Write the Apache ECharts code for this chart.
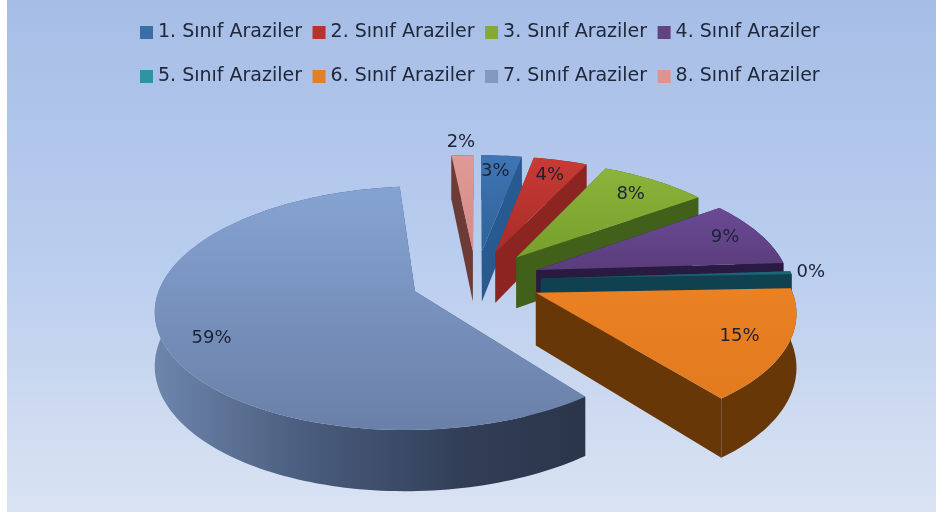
<!DOCTYPE html>
<html><head><meta charset="utf-8">
<style>html,body{margin:0;padding:0;background:#fff}#c{width:940px;height:512px}</style>
<script src="https://cdn.jsdelivr.net/npm/echarts@6/dist/echarts.min.js"></script>
</head><body><div id="c"></div>
<script>
const categories = ['1. Sınıf Araziler','2. Sınıf Araziler','3. Sınıf Araziler','4. Sınıf Araziler','5. Sınıf Araziler','6. Sınıf Araziler','7. Sınıf Araziler','8. Sınıf Araziler'];
const shares = [3, 4, 8, 9, 0.4, 15, 59, 1.6];

const legendColors = ['#3a6ea8','#b5322e','#86a836','#63427f','#2f93a3','#e0812a','#8099bd','#dc9491'];
const topFrom  = ['#3f75b5','#c93a35','#8cb33a','#6a4a94','#1f6a7c','#ea8224','#85a3d2','#e09a96'];
const topTo    = ['#2f6298','#a82c28','#76a02c','#5a3d7c','#175563','#e27a1e','#6a80a8','#d58a86'];
const wallColors = ['#285a92','#8c2521','#41601a','#281a40','#0f4150','#673708','#46597a','#6c3b36'];
const labelFraction = [0.82, 0.82, 0.81, 0.85, 1.08, 0.82, 0.83, 1.16];
const labelAngleShift = [-1, 0, 0, -1, 0, 0, -5, 0];

const cx = 476, cy = 280, R = 253, explode = 65, tilt = 0.46, persp = 0.00054, depth = 52;
const total = shares.reduce((a, b) => a + b, 0);
const starts = shares.map((_, i) => shares.slice(0, i).reduce((a, b) => a + b, 0));

function project(u, v, h) {
  const s = 1 / (1 + v * persp);
  return [cx + u * s, cy - v * tilt * s + h * s];
}
function renderSlice(i) {
  return function (params, api) {
    const val = api.value(0);
    const a0 = starts[i] / total * 2 * Math.PI;
    const a1 = a0 + val / total * 2 * Math.PI;
    const m = (a0 + a1) / 2;
    const ou = explode * Math.sin(m), ov = explode * Math.cos(m);
    const n = Math.max(2, Math.ceil((a1 - a0) / 0.025));
    const rimTop = [], rimBot = [];
    for (let k = 0; k <= n; k++) {
      const a = a0 + (a1 - a0) * k / n;
      const u = ou + R * Math.sin(a), v = ov + R * Math.cos(a);
      rimTop.push(project(u, v, 0));
      rimBot.push(project(u, v, depth));
    }
    const apexTop = project(ou, ov, 0), apexBot = project(ou, ov, depth);
    const wall = wallColors[i];
    const outerFill = i === 6
      ? {type:'linear', x:150, y:0, x2:590, y2:0, global:true,
         colorStops:[{offset:0,color:'#6f87ad'},{offset:0.35,color:'#4a5d7e'},{offset:0.7,color:'#323f58'},{offset:1,color:'#2a3549'}]}
      : wall;
    const poly = (points, fill) => ({type:'polygon', shape:{points}, style:{fill, stroke:null}});
    const ys = rimTop.map(p => p[1]).concat(apexTop[1]);
    const yMin = Math.min.apply(null, ys), yMax = Math.max.apply(null, ys);
    const children = [
      poly([apexTop, rimTop[0], rimBot[0], apexBot], wall),
      poly([apexTop, rimTop[n], rimBot[n], apexBot], wall),
      poly(rimTop.concat(rimBot.slice().reverse()), outerFill),
      poly([apexTop].concat(rimTop), {type:'linear', x:0, y:yMin, x2:0, y2:yMax, global:true,
        colorStops:[{offset:0,color:topFrom[i]},{offset:1,color:topTo[i]}]})
    ];
    const f = labelFraction[i], lm = m + labelAngleShift[i] * Math.PI / 180;
    const lp = project(ou + f * R * Math.sin(lm), ov + f * R * Math.cos(lm), 0);
    children.push({type:'text', z2:100, style:{x:lp[0], y:lp[1], text:Math.round(val) + '%',
      fill:'#1c2236', font:'18px "DejaVu Sans"', align:'center', verticalAlign:'middle'}});
    return {type:'group', children};
  };
}
const legendText = {fontFamily:'DejaVu Sans', fontSize:19, color:'#20283a'};
const option = {
  animation:false,
  backgroundColor:'#ffffff',
  graphic:[{type:'rect', z:-10, silent:true, shape:{x:7,y:0,width:929,height:512},
    style:{fill:{type:'linear',x:0,y:0,x2:0,y2:1,colorStops:[
      {offset:0,color:'#a6bde6'},{offset:0.5,color:'#b9cdee'},{offset:0.8,color:'#cddaf0'},{offset:1,color:'#d9e3f3'}]}}}],
  legend:[
    {data:categories.slice(0,4), left:135, top:18, itemWidth:13, itemHeight:13, itemGap:10.5, icon:'rect', textStyle:legendText, selectedMode:false},
    {data:categories.slice(4), left:135, top:62, itemWidth:13, itemHeight:13, itemGap:10.5, icon:'rect', textStyle:legendText, selectedMode:false}
  ],
  series:categories.map((name, i) => ({
    type:'custom', name, coordinateSystem:'none', silent:true,
    z:(i === 7 ? 1 : i + 2),
    itemStyle:{color:legendColors[i]},
    renderItem:renderSlice(i),
    data:[[shares[i]]]
  }))
};
echarts.init(document.getElementById('c'), null, {renderer:'canvas'}).setOption(option);
</script></body></html>
